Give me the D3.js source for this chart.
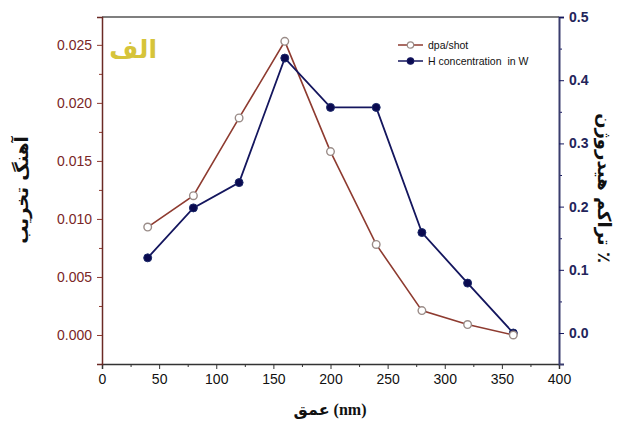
<!DOCTYPE html>
<html lang="fa">
<head>
<meta charset="utf-8">
<title>dpa/shot and H concentration</title>
<script src="https://d3js.org/d3.v7.min.js"></script>
<style>
  body { margin: 0; background: #fff; }
  svg { display: block; }
  .tick text { font-family: "Liberation Sans", Arial, sans-serif; font-size: 14px; }
  .persian { font-family: "DejaVu Sans", sans-serif; font-weight: bold; }
</style>
</head>
<body>
<svg id="chart" width="632" height="423"></svg>
<script>
// data
let depth = [40, 80, 120, 160, 200, 240, 280, 320, 360];
let dpaShot = [0.0093, 0.0120, 0.0187, 0.0253, 0.0158, 0.0078, 0.0021, 0.0009, 0.0000];
let hConc = [0.119, 0.198, 0.238, 0.435, 0.357, 0.357, 0.159, 0.079, 0.000];
let xTicks = [0, 50, 100, 150, 200, 250, 300, 350, 400];
let leftTicks = [0, 0.005, 0.010, 0.015, 0.020, 0.025];
let rightTicks = [0, 0.1, 0.2, 0.3, 0.4, 0.5];
let legendNames = ["dpa/shot", "H concentration  in W"];

let svg = d3.select("#chart");
let plotLeft = 102, plotRight = 559, plotTop = 17, plotBottom = 364;

let redCol = "#8e3b30", blueCol = "#14165e";

let x = d3.scaleLinear().domain([0, 400]).range([plotLeft, plotRight]);
let yL = d3.scaleLinear().domain([-0.0025, 0.0274]).range([plotBottom, plotTop]);
let yR = d3.scaleLinear().domain([-0.049, 0.5]).range([plotBottom, plotTop]);

// top border
svg.append("line")
    .attr("x1", plotLeft).attr("x2", plotRight)
    .attr("y1", plotTop).attr("y2", plotTop)
    .attr("stroke", "#555").attr("stroke-width", 1.5);

// minor ticks helper
function minor(a, b, step) {
    let out = [];
    for (let v = a; v <= b + 1e-9; v += step) out.push(+v.toFixed(6));
    return out;
}

// bottom axis
let xMinor = svg.append("g").attr("transform", `translate(0,${plotBottom})`)
    .call(d3.axisBottom(x).tickValues(minor(25, 375, 50)).tickSize(3).tickFormat(""));
xMinor.select(".domain").remove();
xMinor.selectAll("line").attr("stroke", "#333");
let xAxis = svg.append("g").attr("transform", `translate(0,${plotBottom})`)
    .call(d3.axisBottom(x).tickValues(xTicks).tickSize(5).tickPadding(5));
xAxis.select(".domain").attr("stroke", "#333").attr("stroke-width", 1.5);
xAxis.selectAll("line").attr("stroke", "#333");
xAxis.selectAll("text").attr("fill", "#111");

// left axis
let lMinor = svg.append("g").attr("transform", `translate(${plotLeft},0)`)
    .call(d3.axisLeft(yL).tickValues(minor(0.0025, 0.0275, 0.005).filter(v => v < 0.0274)).tickSize(3).tickFormat(""));
lMinor.select(".domain").remove();
lMinor.selectAll("line").attr("stroke", redCol);
let lAxis = svg.append("g").attr("transform", `translate(${plotLeft},0)`)
    .call(d3.axisLeft(yL).tickValues(leftTicks).tickSize(5).tickPadding(5).tickFormat(d3.format(".3f")));
lAxis.select(".domain").attr("stroke", "#6b2a25").attr("stroke-width", 1.5);
lAxis.selectAll("line").attr("stroke", redCol);
lAxis.selectAll("text").attr("fill", "#7a2626");

// right axis
let rMinor = svg.append("g").attr("transform", `translate(${plotRight},0)`)
    .call(d3.axisRight(yR).tickValues(minor(0.05, 0.45, 0.1)).tickSize(3).tickFormat(""));
rMinor.select(".domain").remove();
rMinor.selectAll("line").attr("stroke", blueCol);
let rAxis = svg.append("g").attr("transform", `translate(${plotRight},0)`)
    .call(d3.axisRight(yR).tickValues(rightTicks).tickSize(5).tickPadding(5).tickFormat(d3.format(".1f")));
rAxis.select(".domain").attr("stroke", "#3a3d6e").attr("stroke-width", 2);
rAxis.selectAll("line").attr("stroke", blueCol);
rAxis.selectAll("text").attr("fill", "#23245a").attr("font-weight", "bold");

// series
let redLine = d3.line().x((d, i) => x(depth[i])).y(d => yL(d));
let blueLine = d3.line().x((d, i) => x(depth[i])).y(d => yR(d));

svg.append("path").datum(dpaShot)
    .attr("d", redLine).attr("fill", "none")
    .attr("stroke", redCol).attr("stroke-width", 1.6);
svg.append("path").datum(hConc)
    .attr("d", blueLine).attr("fill", "none")
    .attr("stroke", blueCol).attr("stroke-width", 1.8);

svg.append("g").selectAll("circle").data(hConc).enter()
    .append("circle")
    .attr("cx", (d, i) => x(depth[i])).attr("cy", d => yR(d))
    .attr("r", 4).attr("fill", "#0a0a50").attr("stroke", "#1c2a6a").attr("stroke-width", 1);
svg.append("g").selectAll("circle").data(dpaShot).enter()
    .append("circle")
    .attr("cx", (d, i) => x(depth[i])).attr("cy", d => yL(d))
    .attr("r", 3.8).attr("fill", "#fff").attr("stroke", "#9a8c88").attr("stroke-width", 1.4);

// legend
let legend = svg.append("g").attr("transform", "translate(398,45)");
legendNames.forEach((name, i) => {
    let g = legend.append("g").attr("transform", `translate(0,${i * 16})`);
    g.append("line").attr("x1", 0).attr("x2", 25).attr("y1", 0).attr("y2", 0)
        .attr("stroke", i === 0 ? redCol : blueCol).attr("stroke-width", 1.5);
    g.append("circle").attr("cx", 12.5).attr("cy", 0).attr("r", 3.2)
        .attr("fill", i === 0 ? "#fff" : "#0a0a50")
        .attr("stroke", i === 0 ? "#9a8c88" : blueCol).attr("stroke-width", 1.2);
    g.append("text").attr("x", 30).attr("y", 4)
        .attr("font-family", "Liberation Sans, Arial, sans-serif")
        .attr("font-size", 10.5).attr("fill", "#111")
        .attr("xml:space", "preserve").style("white-space", "pre").text(name);
});

// panel label
svg.append("text").attr("class", "persian")
    .attr("x", 157).attr("y", 58).attr("text-anchor", "end")
    .attr("font-size", 25).attr("fill", "#d6c43a").text("الف");

// axis titles
svg.append("text").attr("class", "persian")
    .attr("transform", "translate(28,190) rotate(-90)")
    .attr("text-anchor", "middle").attr("font-size", 18).attr("fill", "#111")
    .text("آهنگ تخریب");
svg.append("text").attr("class", "persian")
    .attr("transform", "translate(598,188) rotate(90)")
    .attr("text-anchor", "middle").attr("font-size", 18).attr("fill", "#111")
    .text("تراکم هیدروژن ٪");
svg.append("text")
    .attr("x", 330).attr("y", 415).attr("text-anchor", "middle")
    .attr("font-size", 16).attr("font-weight", "bold").attr("fill", "#111")
    .attr("font-family", "Liberation Serif, DejaVu Sans, serif")
    .text("عمق (nm)");
</script>
</body>
</html>
